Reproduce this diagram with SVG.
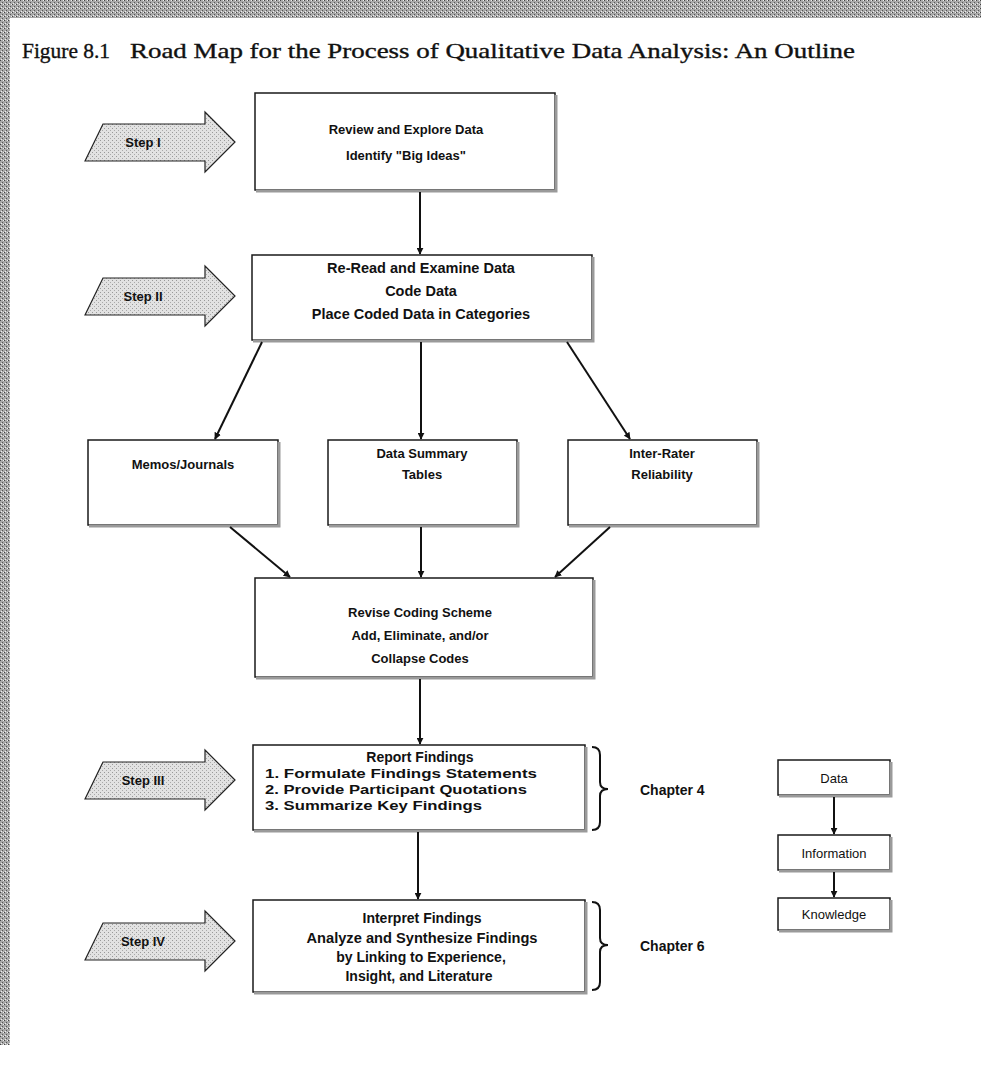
<svg xmlns="http://www.w3.org/2000/svg" width="981" height="1078" viewBox="0 0 981 1078">
<defs>
<marker id="ah" viewBox="0 0 10 10" refX="9" refY="5" markerWidth="7" markerHeight="7" orient="auto" markerUnits="userSpaceOnUse">
<path d="M0,0 L10,5 L0,10 z" fill="#111"/>
</marker>
<pattern id="dither" width="4" height="4" patternUnits="userSpaceOnUse">
<rect width="4" height="4" fill="#a8a8a8"/>
<rect width="1" height="1" fill="#444"/>
<rect x="2" y="2" width="1" height="1" fill="#555"/>
<rect x="3" y="0" width="1" height="1" fill="#eee"/>
<rect x="1" y="3" width="1" height="1" fill="#eee"/>
</pattern>
<pattern id="lightdither" width="4" height="4" patternUnits="userSpaceOnUse">
<rect width="4" height="4" fill="#e2e2e2"/>
<rect width="1" height="1" fill="#999"/>
<rect x="2" y="2" width="1" height="1" fill="#aaa"/>
</pattern>
</defs>
<style>
.box{fill:#fff;stroke:#1a1a1a;stroke-width:1.5}
.shadow{fill:none;stroke:#9a9a9a;stroke-width:3}
.t{font-family:"Liberation Sans",Arial,sans-serif;font-weight:bold;font-size:13px;fill:#111;text-anchor:middle}
.tl{font-family:"Liberation Sans",Arial,sans-serif;font-weight:bold;font-size:14px;fill:#111}
.li{font-family:"Liberation Sans",Arial,sans-serif;font-weight:bold;font-size:13px;fill:#111}
.tn{font-family:"Liberation Sans",Arial,sans-serif;font-size:13px;fill:#111;text-anchor:middle}
.step{fill:url(#lightdither);stroke:#222;stroke-width:1.2}
.st{font-family:"Liberation Sans",Arial,sans-serif;font-weight:bold;font-size:13px;fill:#111;text-anchor:middle}
.con{stroke:#111;stroke-width:2;fill:none}
.brace{stroke:#111;stroke-width:2;fill:none}
.title{font-family:"Liberation Serif","Times New Roman",serif;font-size:21px;fill:#111;stroke:#111;stroke-width:0.35}
</style>
<rect width="981" height="1078" fill="#fff"/>
<rect x="0" y="0" width="981" height="18" fill="url(#dither)"/>
<rect x="0" y="0" width="10" height="1045" fill="url(#dither)"/>
<text class="title" x="22" y="58" textLength="88" lengthAdjust="spacingAndGlyphs">Figure 8.1</text>
<text class="title" x="130" y="58" textLength="725" lengthAdjust="spacingAndGlyphs">Road Map for the Process of Qualitative Data Analysis: An Outline</text>

<g id="step1">
<path class="step" d="M85,161 L103,124 L205,124 L205,112 L235,142 L205,172 L205,161 Z"/>
<text class="st" x="143" y="147">Step I</text>
</g>
<g id="step2">
<path class="step" d="M85,315 L103,278 L205,278 L205,266 L235,296 L205,326 L205,315 Z"/>
<text class="st" x="143" y="301">Step II</text>
</g>
<g id="step3">
<path class="step" d="M85,799 L103,762 L205,762 L205,750 L235,780 L205,810 L205,799 Z"/>
<text class="st" x="143" y="785">Step III</text>
</g>
<g id="step4">
<path class="step" d="M85,960 L103,923 L205,923 L205,911 L235,941 L205,971 L205,960 Z"/>
<text class="st" x="143" y="946">Step IV</text>
</g>

<g id="box1">
<rect class="box" x="255" y="93" width="300" height="97"/>
<path class="shadow" d="M556,95 V191 H256"/>
<text class="t" x="406" y="134" font-size="12.5">Review and Explore Data</text>
<text class="t" x="406" y="160" font-size="12.5">Identify "Big Ideas"</text>
</g>
<g id="box2">
<rect class="box" x="252" y="255" width="340" height="85"/>
<path class="shadow" d="M593,257 V341 H253"/>
<text class="t" x="421" y="273" style="font-size:14.5px">Re-Read and Examine Data</text>
<text class="t" x="421" y="296" style="font-size:14.5px">Code Data</text>
<text class="t" x="421" y="319" style="font-size:14.5px">Place Coded Data in Categories</text>
</g>
<g id="memos">
<rect class="box" x="88" y="440" width="190" height="85"/>
<path class="shadow" d="M279,442 V526 H89"/>
<text class="t" x="183" y="469">Memos/Journals</text>
</g>
<g id="summary">
<rect class="box" x="328" y="440" width="189" height="85"/>
<path class="shadow" d="M518,442 V526 H329"/>
<text class="t" x="422" y="458">Data Summary</text>
<text class="t" x="422" y="479">Tables</text>
</g>
<g id="reliability">
<rect class="box" x="568" y="440" width="189" height="85"/>
<path class="shadow" d="M758,442 V526 H569"/>
<text class="t" x="662" y="458">Inter-Rater</text>
<text class="t" x="662" y="479">Reliability</text>
</g>
<g id="box4">
<rect class="box" x="255" y="578" width="338" height="99"/>
<path class="shadow" d="M594,580 V678 H256"/>
<text class="t" x="420" y="617">Revise Coding Scheme</text>
<text class="t" x="420" y="640">Add, Eliminate, and/or</text>
<text class="t" x="420" y="663">Collapse Codes</text>
</g>
<g id="box5">
<rect class="box" x="253" y="745" width="332" height="85"/>
<path class="shadow" d="M586,747 V831 H254"/>
<text class="t" x="420" y="762" style="font-size:14px">Report Findings</text>
<text class="li" x="265" y="778" textLength="272" lengthAdjust="spacingAndGlyphs">1. Formulate Findings Statements</text>
<text class="li" x="265" y="794" textLength="262" lengthAdjust="spacingAndGlyphs">2. Provide Participant Quotations</text>
<text class="li" x="265" y="810" textLength="217" lengthAdjust="spacingAndGlyphs">3. Summarize Key Findings</text>
</g>
<g id="box6">
<rect class="box" x="253" y="900" width="332" height="92"/>
<path class="shadow" d="M586,902 V993 H254"/>
<text class="t" x="422" y="923" style="font-size:14px">Interpret Findings</text>
<text class="t" x="422" y="943" style="font-size:14px" textLength="231" lengthAdjust="spacingAndGlyphs">Analyze and Synthesize Findings</text>
<text class="t" x="421" y="962" style="font-size:14px">by Linking to Experience,</text>
<text class="t" x="419" y="981" style="font-size:14px">Insight, and Literature</text>
</g>
<g id="chapter4">
<path class="brace" d="M592,747 Q600,747 600,755 V782 Q600,789 608,789 Q600,789 600,796 V822 Q600,830 592,830"/>
<text class="tl" x="640" y="795">Chapter 4</text>
</g>
<g id="chapter6">
<path class="brace" d="M592,902 Q600,902 600,910 V938 Q600,945 608,945 Q600,945 600,952 V982 Q600,990 592,990"/>
<text class="tl" x="640" y="951">Chapter 6</text>
</g>
<g id="data">
<rect class="box" x="778" y="760" width="112" height="35"/>
<path class="shadow" d="M891,762 V796 H779"/>
<text class="tn" x="834" y="783">Data</text>
</g>
<g id="information">
<rect class="box" x="778" y="835" width="112" height="35"/>
<path class="shadow" d="M891,837 V871 H779"/>
<text class="tn" x="834" y="858">Information</text>
</g>
<g id="knowledge">
<rect class="box" x="778" y="898" width="112" height="32"/>
<path class="shadow" d="M891,900 V931 H779"/>
<text class="tn" x="834" y="919">Knowledge</text>
</g>

<g id="connectors">
<line class="con" x1="420" y1="192" x2="420" y2="254" marker-end="url(#ah)"/>
<line class="con" x1="262" y1="342" x2="215" y2="439" marker-end="url(#ah)"/>
<line class="con" x1="421" y1="342" x2="421" y2="439" marker-end="url(#ah)"/>
<line class="con" x1="567" y1="342" x2="630" y2="439" marker-end="url(#ah)"/>
<line class="con" x1="230" y1="527" x2="290" y2="577" marker-end="url(#ah)"/>
<line class="con" x1="421" y1="527" x2="421" y2="577" marker-end="url(#ah)"/>
<line class="con" x1="610" y1="527" x2="555" y2="577" marker-end="url(#ah)"/>
<line class="con" x1="420" y1="679" x2="420" y2="744" marker-end="url(#ah)"/>
<line class="con" x1="418" y1="832" x2="418" y2="899" marker-end="url(#ah)"/>
<line class="con" x1="834" y1="797" x2="834" y2="834" marker-end="url(#ah)"/>
<line class="con" x1="834" y1="872" x2="834" y2="897" marker-end="url(#ah)"/>
</g>
</svg>
